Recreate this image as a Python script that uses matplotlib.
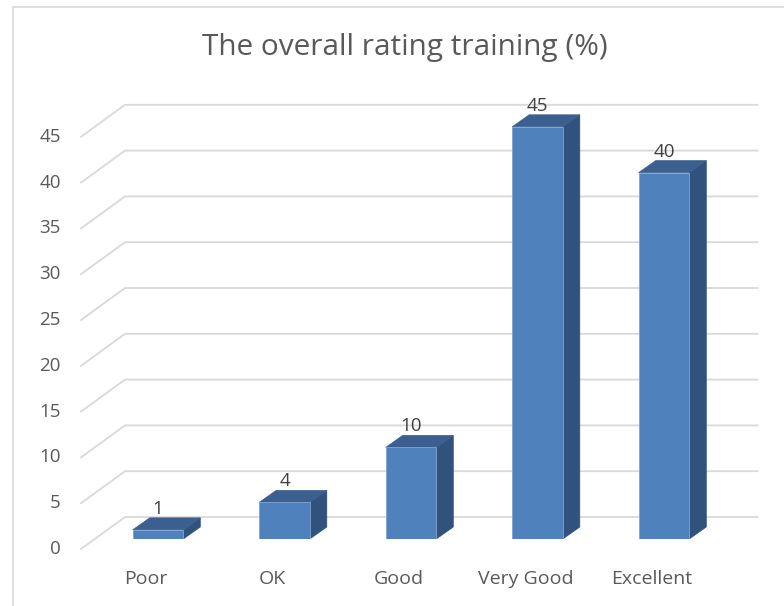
import matplotlib
matplotlib.use('Agg')
import matplotlib.pyplot as plt
from matplotlib.patches import Polygon
from matplotlib.lines import Line2D

categories = ['Poor', 'OK', 'Good', 'Very Good', 'Excellent']
values = [1, 4, 10, 45, 40]
yticks = [0, 5, 10, 15, 20, 25, 30, 35, 40, 45]

plt.rcParams['font.family'] = ['Open Sans', 'DejaVu Sans']

front_c = '#4F81BD'
side_c = '#31527D'
top_c = '#3B608F'
grid_c = '#D9D9D9'
text_c = '#595959'

fig = plt.figure(figsize=(7.84, 6.06), dpi=100)
ax = fig.add_axes([94.75 / 784, 67 / 606, 632.5 / 784, 458 / 606])
ax.set_xlim(-0.5, 4.5)
ax.set_ylim(0, 50)
ax.axis('off')

# pixels per data unit, used to turn the fake 3D depth into data offsets
px_x = 632.5 / 5
px_y = 458 / 50

def off(dx, dy):
    return dx / px_x, dy / px_y

bx, by = off(30.25, 22)    # back wall
fx, fy = off(-13.75, -10)  # front edge
dx, dy = off(17, 12)       # bar depth

# gridlines: diagonal on the side wall plus line on back wall
for v in yticks:
    ax.plot([-0.5 + fx, -0.5 + bx, 4.5 + bx], [v + fy, v + by, v + by],
            color=grid_c, lw=1.3, clip_on=False, zorder=1)
    ax.text(-0.767, v + fy, str(v), ha='right', va='center', fontsize=13.5,
            color=text_c, clip_on=False)

w = 0.4
for i, v in enumerate(values):
    l, r = i - w / 2, i + w / 2
    side = Polygon([(r, 0), (r + dx, dy), (r + dx, v + dy), (r, v)],
                   closed=True, facecolor=side_c, edgecolor=side_c, lw=0.5, zorder=3)
    top = Polygon([(l, v), (l + dx, v + dy), (r + dx, v + dy), (r, v)],
                  closed=True, facecolor=top_c, edgecolor=top_c, lw=0.5, zorder=3)
    ax.add_patch(side)
    ax.add_patch(top)
    ax.text(i, v + 16 / px_y, str(v), ha='center', va='baseline', fontsize=13.5,
            color='#404040', zorder=5)
    ax.text(i - 12 / px_x, -40 / px_y, categories[i], ha='center', va='center',
            fontsize=14, color=text_c, clip_on=False)

ax.bar(range(len(values)), values, width=w, color=front_c, edgecolor='#7FA3D1',
       lw=0.6, zorder=4)

fig.text(404.5 / 784, 1 - 47 / 606, 'The overall rating training (%)',
         ha='center', va='center', fontsize=21.4, color=text_c)

# outer chart border (left and top visible)
fig.add_artist(Line2D([12.5 / 784, 12.5 / 784], [0, 1 - 6.5 / 606],
                      transform=fig.transFigure, color='#D9D9D9', lw=1.2))
fig.add_artist(Line2D([12.5 / 784, 1], [1 - 6.5 / 606, 1 - 6.5 / 606],
                      transform=fig.transFigure, color='#D9D9D9', lw=1.2))

fig.savefig('out.png', dpi=100)
